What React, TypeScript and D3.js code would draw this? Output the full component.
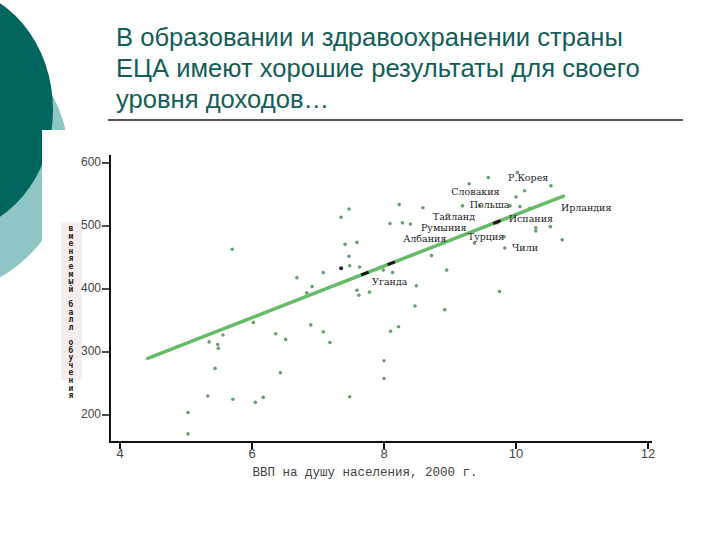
import React from "react";
import * as d3 from "d3";

const gdp = [5.03,5.03,5.33,5.44,5.35,5.48,5.49,5.56,5.70,5.71,6.05,6.17,6.02,6.36,6.51,6.43,6.68,6.83,6.91,6.89,7.08,7.18,7.08,7.35,7.47,7.41,7.59,7.47,7.48,7.63,7.59,7.62,7.78,7.48,8.00,8.00,8.10,8.22,8.49,8.47,8.92,9.75,8.09,8.23,8.28,8.40,7.99,8.13,8.59,8.72,8.95,9.19,9.29,9.58,9.45,9.37,9.82,9.83,10.02,10.00,10.13,10.53,10.06,10.21,9.91,10.30,10.30,10.52,10.70,9.72];
const score = [170,204,230,274,316,312,306,327,463,225,220,228,347,329,320,267,418,394,404,343,332,315,426,514,527,471,474,452,437,435,398,390,395,229,286,258,333,340,405,373,367,396,504,534,505,503,430,426,529,453,430,532,567,577,532,473,483,465,585,546,556,564,531,528,532,497,492,499,478,505];

const darkGdp = [7.35];
const darkScore = [433];
const lineMarkGdp = [7.71, 8.11, 9.71];

const trendGdp = [4.42, 10.72];
const trendScore = [290, 547.6];

const labelNames = ["Р.Корея","Словакия","Польша","Тайланд","Испания","Ирландия","Румыния","Албания","Турция","Чили","Уганда"];
const labelGdp = [9.88, 9.02, 9.30, 8.74, 9.89, 10.68, 8.56, 8.29, 9.27, 9.94, 7.82];
const labelScore = [576, 553, 532, 513, 511, 527, 496, 478, 481, 464, 411];

const xTicks = [4, 6, 8, 10, 12];
const yTicks = [200, 300, 400, 500, 600];

const titleLines = [
  "В образовании и здравоохранении страны",
  "ЕЦА имеют хорошие результаты для своего",
  "уровня доходов…",
];
const xTitle = "ВВП на душу населения, 2000 г.";
const yTitle = "вменяемый балл обучения";

export default function App() {
  const x = d3.scaleLinear().domain([4, 12]).range([120, 648]);
  const y = d3.scaleLinear().domain([200, 600]).range([415, 163]);
  const trend = d3.line<number>().x((d) => x(d)).y((d, i) => y(trendScore[i]));
  const slope = (trendScore[1] - trendScore[0]) / (trendGdp[1] - trendGdp[0]);
  const trendAt = (g: number) => trendScore[0] + (g - trendGdp[0]) * slope;
  const angle = (Math.atan2(y(trendAt(10)) - y(trendAt(4)), x(10) - x(4)) * 180) / Math.PI;
  const teal = "#00665e";

  return (
    <div style={{ position: "fixed", left: 0, top: 0 }}>
      <svg width={720} height={540} style={{ display: "block", background: "#fff" }}>
        <ellipse cx={-65} cy={160} rx={134} ry={134} fill="#8ec6c3" />
        <ellipse cx={-50} cy={110} rx={103} ry={122} fill={teal} />
        <rect x={42} y={130} width={678} height={410} fill="#fff" />

        {titleLines.map((t, i) => (
          <text key={i} x={116} y={46 + i * 31} fontFamily="Liberation Sans, Arial, sans-serif" fontSize={25.6} fill="#135e58">
            {t}
          </text>
        ))}
        <line x1={108} x2={683} y1={120} y2={120} stroke="#555" strokeWidth={2} />

        {/* y label box */}
        <rect x={61} y={222} width={21} height={158} fill="#f6eded" />
        {Array.from(yTitle).map((c, i) => (
          <text key={i} x={71} y={231 + i * 7.6} textAnchor="middle"
            fontFamily="DejaVu Sans Mono, monospace" fontSize={8} fontWeight="bold" fill="#222">
            {c}
          </text>
        ))}

        {/* axes */}
        <line x1={110} x2={110} y1={155} y2={443} stroke="#111" strokeWidth={2} />
        <line x1={109} x2={652} y1={442} y2={442} stroke="#111" strokeWidth={2} />
        {yTicks.map((t) => (
          <g key={t}>
            <line x1={102} x2={110} y1={y(t)} y2={y(t)} stroke="#111" strokeWidth={1.5} />
            <text x={101} y={y(t)} textAnchor="end" dominantBaseline="middle"
              fontFamily="Liberation Sans, Arial, sans-serif" fontSize={12} fill="#444">{t}</text>
          </g>
        ))}
        {xTicks.map((t) => (
          <g key={t}>
            <line x1={x(t)} x2={x(t)} y1={442} y2={449} stroke="#111" strokeWidth={2} />
            <text x={x(t)} y={455} textAnchor="middle" dominantBaseline="middle"
              fontFamily="Liberation Sans, Arial, sans-serif" fontSize={13} fill="#444">{t}</text>
          </g>
        ))}
        <text x={365} y={473} textAnchor="middle" dominantBaseline="middle"
          fontFamily="Liberation Mono, monospace" fontSize={12.5} fill="#444">{xTitle}</text>

        {/* points */}
        {gdp.map((g, i) => (
          <circle key={i} cx={x(g)} cy={y(score[i])} r={1.8} fill="#6b9e6e" />
        ))}
        {darkGdp.map((g, i) => (
          <circle key={"d" + i} cx={x(g)} cy={y(darkScore[i])} r={2} fill="#223" />
        ))}

        <path d={trend(trendGdp) || ""} stroke="#66bb66" strokeWidth={3.5} fill="none" strokeLinecap="round" />
        {lineMarkGdp.map((g, i) => (
          <rect key={"m" + i} x={x(g) - 4} y={y(trendAt(g)) - 1.5} width={8} height={3} fill="#1a1a1a"
            transform={`rotate(${angle} ${x(g)} ${y(trendAt(g))})`} />
        ))}

        {labelNames.map((n, i) => (
          <text key={n} x={x(labelGdp[i])} y={y(labelScore[i])} dominantBaseline="middle"
            fontFamily="DejaVu Serif, serif" fontSize={9.5} fill="#222">{n}</text>
        ))}
      </svg>
    </div>
  );
}
